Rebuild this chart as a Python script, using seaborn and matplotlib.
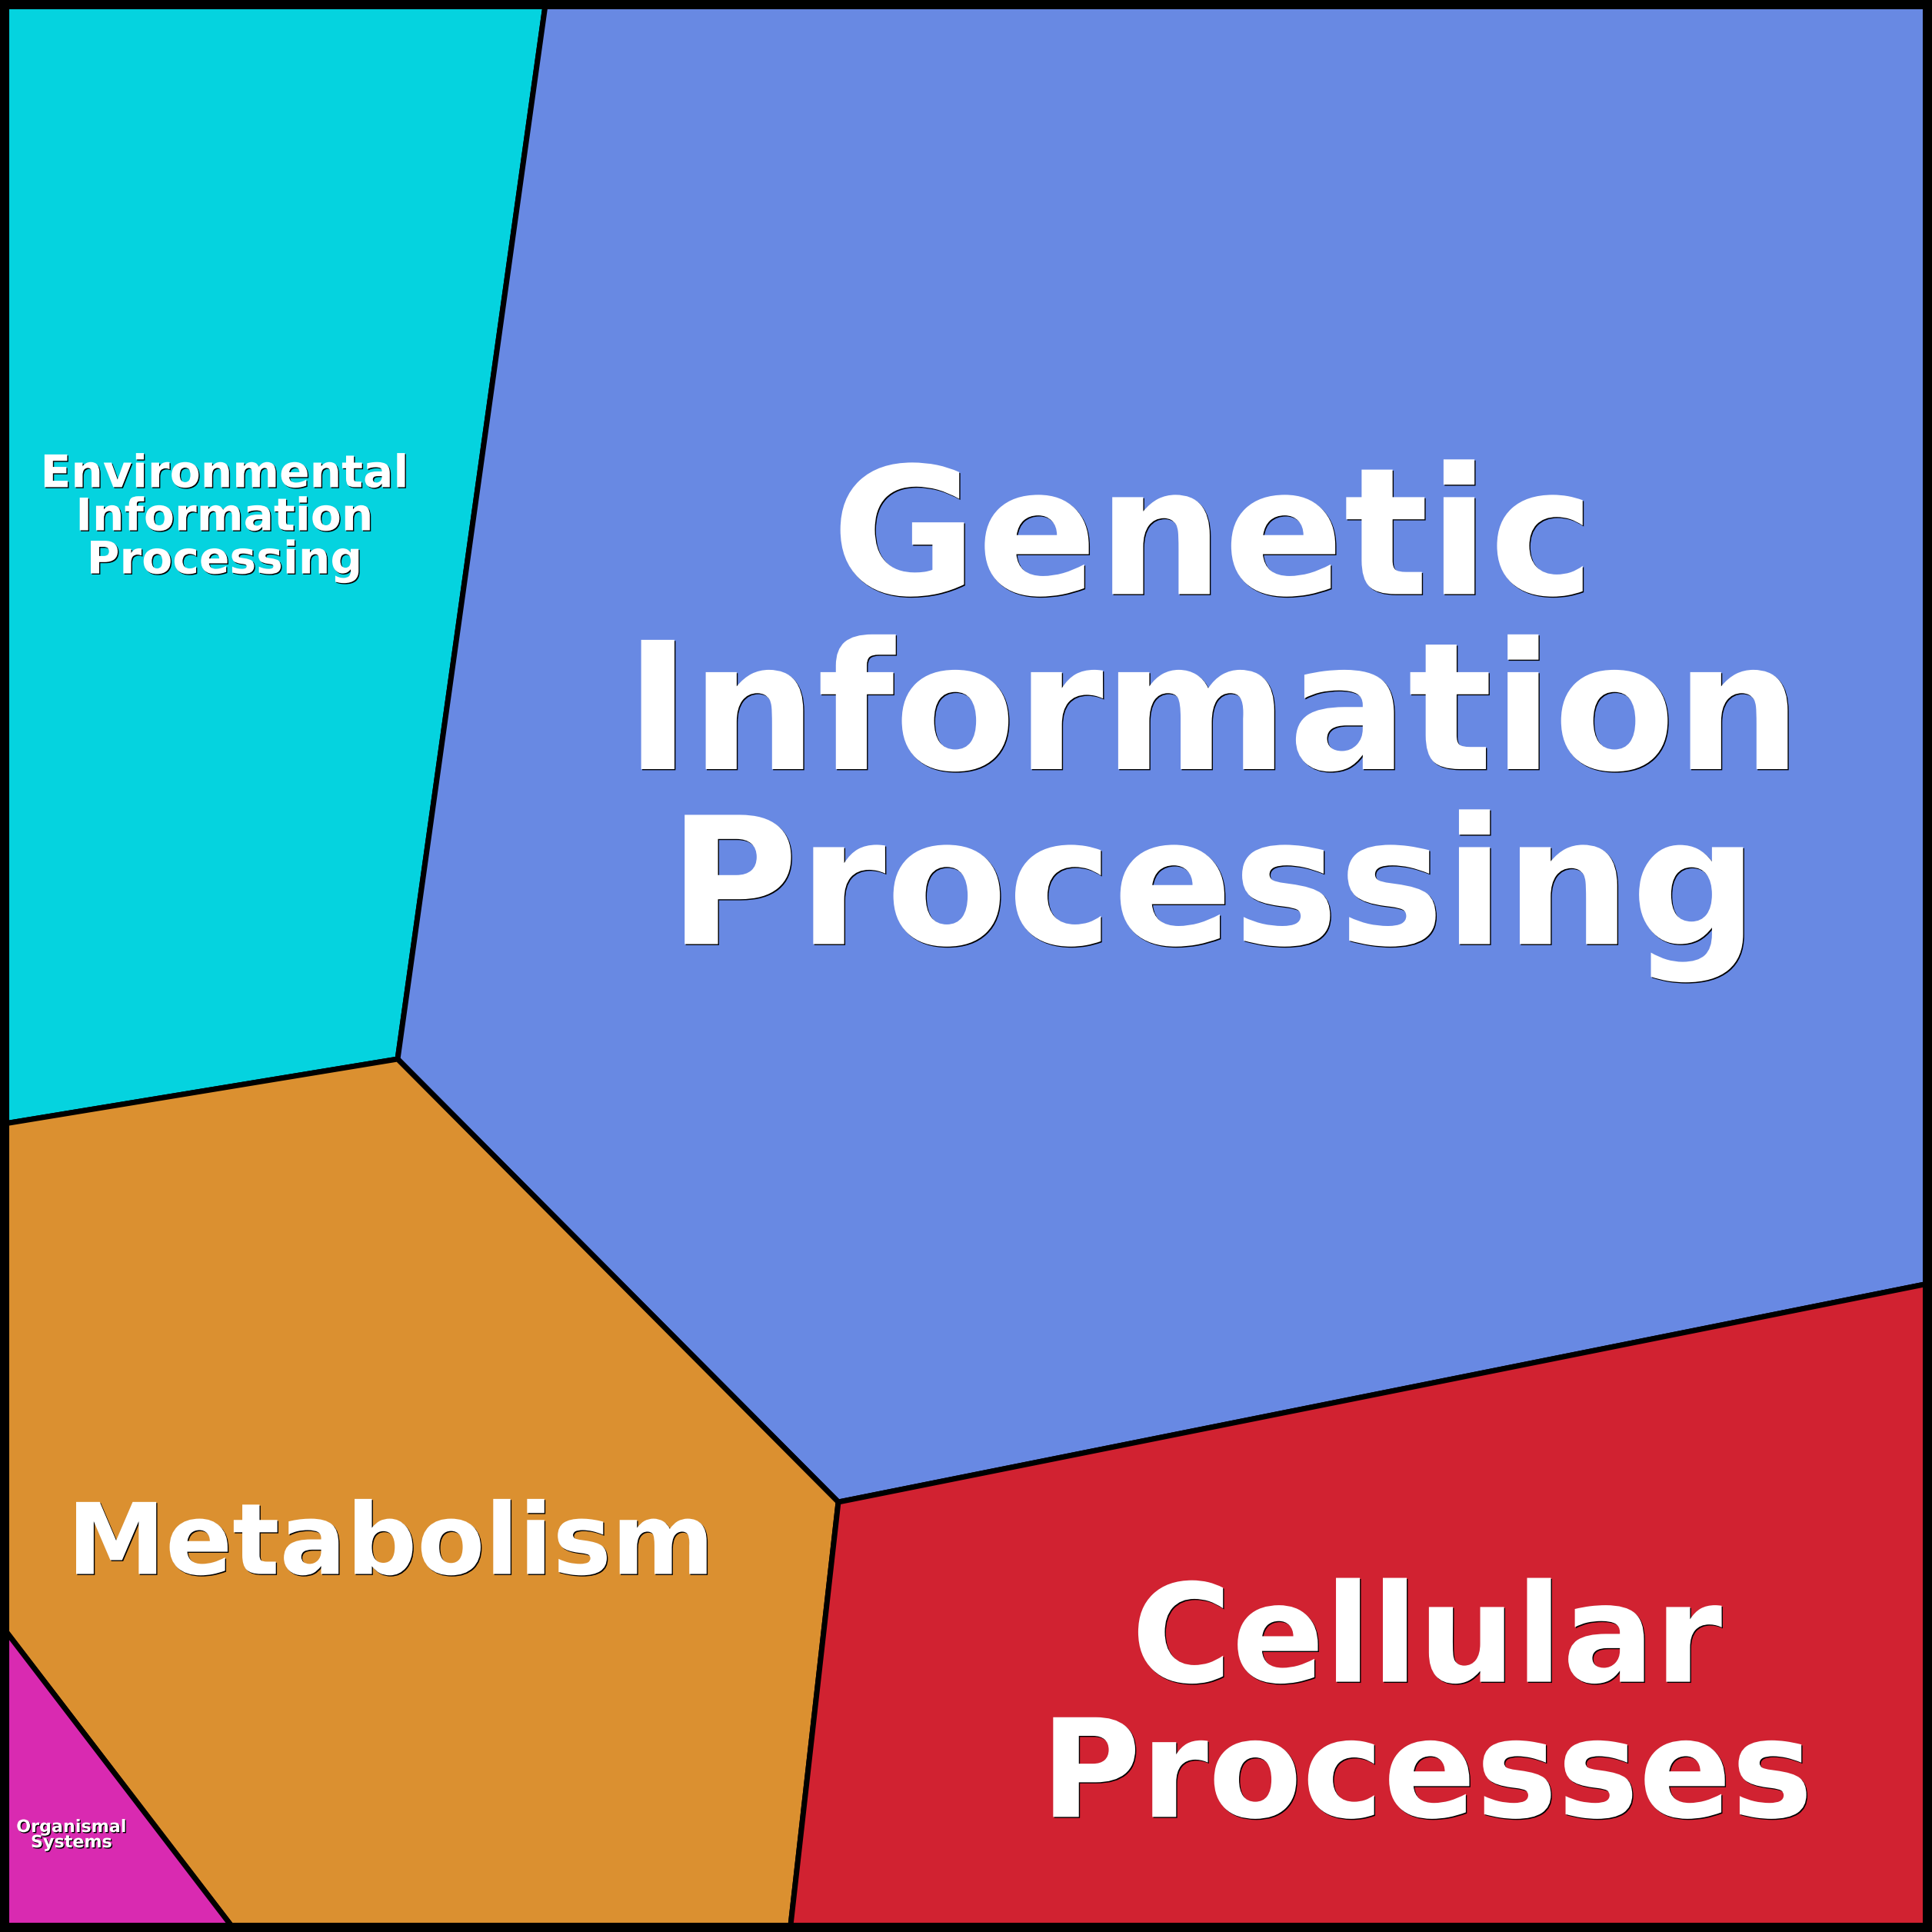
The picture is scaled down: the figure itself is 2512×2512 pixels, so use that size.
import matplotlib
matplotlib.use("Agg")
import matplotlib.pyplot as plt
import matplotlib.patheffects as pe
from matplotlib.patches import Polygon, Rectangle
import seaborn as sns

sns.set_theme(style="white")
plt.rcParams['font.family'] = ['DejaVu Sans']

# Voronoi treemap cells (pixel space 0..2512, y downward)
categories = ["Environmental\nInformation\nProcessing",
              "Genetic\nInformation\nProcessing",
              "Metabolism",
              "Cellular\nProcesses",
              "Organismal\nSystems"]
colors = ["#05D3DF", "#6889E3", "#DB9030", "#D12231", "#D92AB1"]
cell_x = [[0, 710, 517, 0],
          [710, 2512, 2512, 1090, 517],
          [0, 517, 1090, 1027, 307, 0],
          [1090, 2512, 2512, 1027],
          [0, 307, 0]]
cell_y = [[0, 0, 1377, 1462],
          [0, 0, 1668, 1953, 1377],
          [1462, 1377, 1953, 2512, 2512, 2111],
          [1953, 1668, 2512, 2512],
          [2111, 2512, 2512]]
label_x = [292, 1577, 508, 1855, 93]
label_y = [673, 937, 2011, 2225, 2386]
label_size = [42, 166, 92.5, 128, 16]
label_spacing = [0.98, 1.02, 1.0, 1.02, 1.0]

W = 2512
fig = plt.figure(figsize=(W / 100, W / 100), dpi=100)
ax = fig.add_axes([0, 0, 1, 1])
ax.set_xlim(0, W)
ax.set_ylim(W, 0)
ax.axis("off")

for xs, ys, c in zip(cell_x, cell_y, colors):
    ax.add_patch(Polygon(list(zip(xs, ys)), closed=True, facecolor=c,
                         edgecolor="black", linewidth=5.0, joinstyle="miter"))

ax.add_patch(Rectangle((0, 0), W, W, fill=False, edgecolor="black",
                       linewidth=17.3, clip_on=True))

shadow = [pe.withSimplePatchShadow(offset=(1.0, -1.0), shadow_rgbFace="black", alpha=1.0)]
for t, x, y, s, ls in zip(categories, label_x, label_y, label_size, label_spacing):
    ax.text(x, y, t, ha="center", va="center", multialignment="center",
            fontsize=s, fontweight="bold", color="white", linespacing=ls,
            path_effects=shadow)

fig.savefig("out.png", dpi=100)
